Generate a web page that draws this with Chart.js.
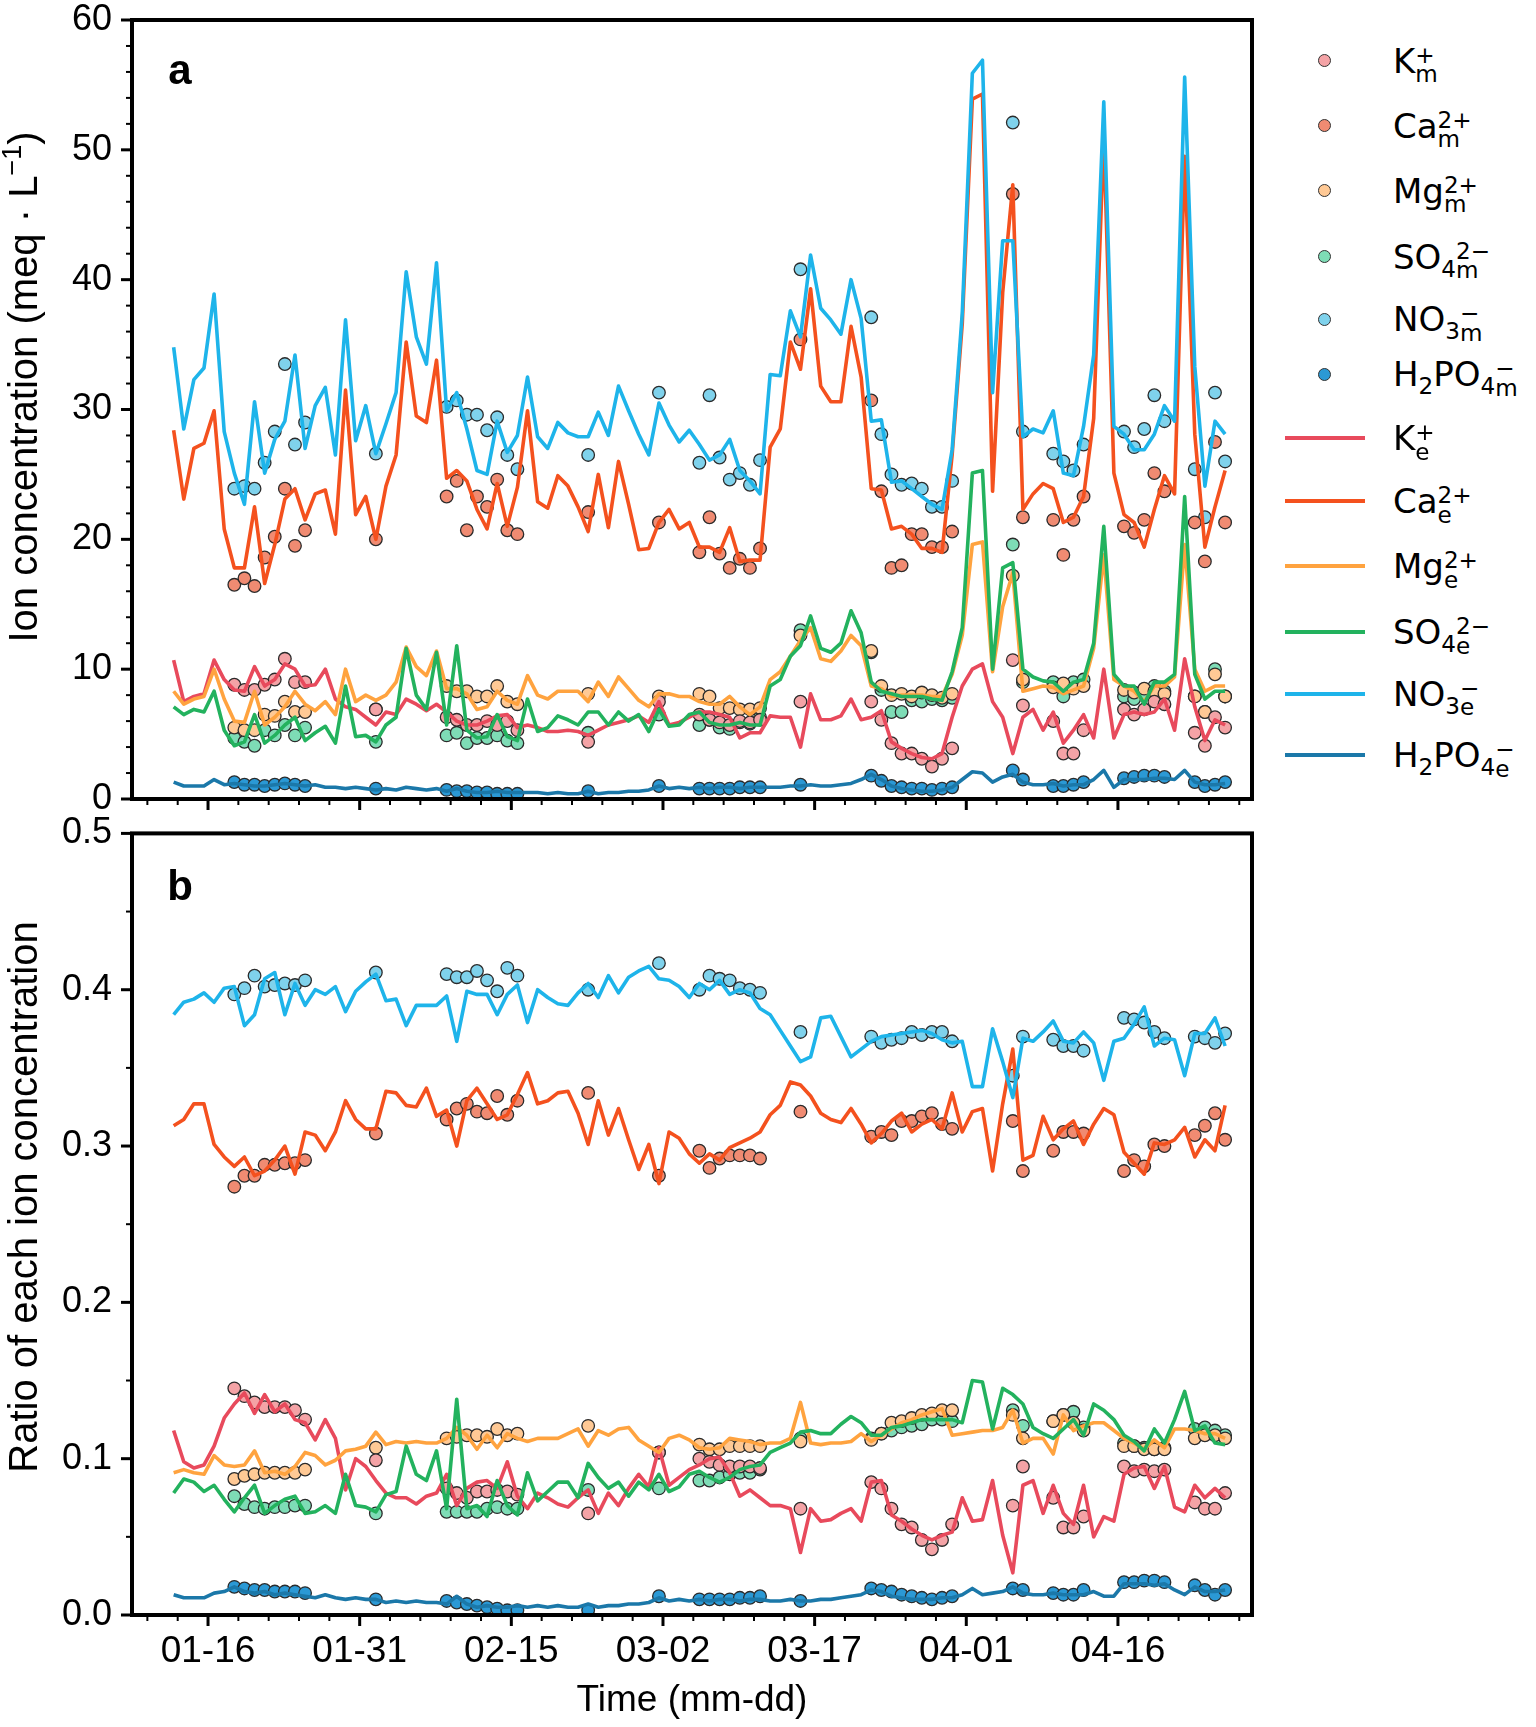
<!DOCTYPE html>
<html>
<head>
<meta charset="utf-8">
<script src="https://cdn.jsdelivr.net/npm/chart.js@4.4.1/dist/chart.umd.min.js"></script>
<style>
    html, body { margin: 0; padding: 0; background: #fff; }
    body { width: 1536px; height: 1727px; position: relative; overflow: hidden; }
    .panel { position: absolute; left: 0; width: 1290px; }
    #wrapA { top: 0; height: 830px; }
    #wrapB { top: 790px; height: 937px; }
    #legend { position: absolute; left: 0; top: 0; font-family: 'DejaVu Sans'; font-size: 34px; color: #000; }
    .row { position: absolute; left: 1393px; height: 34px; line-height: 34px; white-space: nowrap; }
    .st { display: inline-grid; font-size: 0.68em; line-height: 0.85; vertical-align: 10px; }
    .lo { font-size: 0.68em; vertical-align: -8px; }
    .dot { position: absolute; width: 13px; height: 13px; border-radius: 50%; border: 1.3px solid #333; box-sizing: border-box; }
    .seg { position: absolute; width: 80px; height: 4px; }
</style>
</head>
<body>
<div id="wrapA" class="panel"><canvas id="chartA"></canvas></div>
<div id="wrapB" class="panel"><canvas id="chartB"></canvas></div>
<div id="legend"></div>

<script>
// Datos: una muestra diaria; dia 0 = 01-16
const startOffset = -3.4;

// Indices (desde el primer dia) de las fechas con medicion
const sampleIdx = [6,7,8,9,10,11,12,13, 20, 27,28,29,30,31,32,33,34, 41, 48, 52,53,54,55,56,57,58, 62,
    69,70,71,72,73,74,75,76,77, 83,84, 87,88,89,90, 94,95,96,97,98, 101,102,103,104];

// Eje x
const xTickDays = [0, 15, 30, 45, 60, 75, 90];
const xTickLabels = ['01-16', '01-31', '02-15', '03-02', '03-17', '04-01', '04-16'];

// ---- Panel a: concentracion estimada (meq/L) ----
const concK = [10.7,7.5,7.9,8.1,10.7,9.2,8.4,8.3,10.2,8.7,9.2,10.4,10.0,8.7,8.8,10.0,7.7,7.1,6.9,6.3,5.7,6.7,6.5,7.7,7.3,6.8,7.3,6.7,6.0,5.7,5.7,6.0,6.4,6.5,5.5,
    5.7,5.5,5.2,5.2,5.3,5.2,4.9,5.3,5.7,5.9,6.1,6.4,5.9,7.5,5.7,5.9,6.3,6.7,6.7,6.5,6.3,4.7,5.1,5.1,6.4,6.3,6.3,4.0,8.1,6.1,6.1,6.4,7.7,6.1,6.3,6.8,4.4,
    3.9,3.5,3.2,3.1,3.5,6.3,8.7,10.0,10.4,7.5,6.3,3.5,6.3,6.9,5.3,6.7,4.3,5.3,6.5,4.7,10.0,4.7,6.5,6.7,6.5,6.7,7.7,5.3,10.8,7.1,4.5,6.1,5.7];
const concCa = [28.4,23.1,27.0,27.4,29.9,20.8,17.8,17.8,22.5,16.6,19.6,23.1,23.9,21.5,23.5,23.8,20.4,31.5,21.9,23.3,20.0,24.1,26.5,35.2,29.5,29.0,33.8,24.7,25.3,24.5,22.3,20.8,24.3,21.0,24.0,
    29.9,22.9,22.4,24.9,24.1,22.5,20.6,25.0,20.9,26.0,22.7,19.2,19.3,21.3,22.3,20.8,21.3,19.4,19.4,19.0,20.9,18.3,18.4,18.4,27.1,28.5,35.2,33.1,39.3,31.8,30.6,30.6,36.4,32.5,23.9,23.8,20.8,
    21.0,20.4,19.3,19.3,19.0,26.5,36.6,53.9,54.3,23.7,39.0,47.3,22.3,23.5,24.3,23.9,21.3,21.7,23.3,29.3,51.1,25.1,21.9,21.3,19.4,22.3,24.9,23.5,49.5,28.1,19.4,22.5,25.3];
const concMg = [8.3,7.3,7.7,7.9,10.0,7.7,6.0,5.9,8.3,5.7,6.3,7.1,8.3,7.3,6.8,7.5,6.5,10.0,7.5,8.0,7.6,8.0,9.0,11.7,10.2,9.5,11.4,8.5,8.5,8.1,6.9,7.1,8.3,7.6,7.3,
    9.5,8.0,7.7,8.3,8.3,8.3,7.5,9.0,7.9,9.4,8.5,7.6,7.1,8.1,8.1,7.9,7.9,7.5,7.3,7.3,7.9,7.1,6.5,7.1,9.2,9.8,11.0,12.2,13.2,10.8,10.6,11.4,12.6,11.8,8.7,8.5,7.9,
    8.0,8.0,8.0,7.9,7.9,9.6,12.6,19.6,19.8,9.8,14.8,17.4,8.3,8.5,8.7,8.6,8.1,8.4,8.7,11.6,18.8,9.2,8.7,8.3,7.5,8.7,8.7,9.4,19.6,10.0,8.3,8.7,8.7];
const concSO4 = [7.1,6.5,6.9,6.7,8.3,5.3,4.1,4.4,6.5,4.3,4.9,5.7,6.3,4.5,5.1,5.6,4.3,8.7,4.8,4.9,4.4,5.7,6.3,11.6,8.0,6.9,11.3,5.7,11.8,5.3,4.7,4.8,6.5,4.8,4.5,
    7.7,5.2,5.5,6.4,6.1,5.7,6.7,6.7,5.7,6.7,6.0,6.5,5.2,6.9,5.6,5.7,6.5,6.7,5.9,5.7,5.7,5.9,5.7,5.7,8.7,9.2,11.0,11.8,14.1,11.6,11.3,12.0,14.5,12.8,9.0,8.3,8.1,
    7.9,7.9,7.9,7.7,7.6,9.8,13.2,25.1,25.3,10.0,17.8,18.2,10.0,9.4,9.1,9.0,8.3,9.0,9.2,12.0,21.0,9.6,8.7,8.7,7.3,9.0,9.0,9.6,23.3,9.6,7.7,8.3,8.3];
const concNO3 = [34.8,28.5,32.3,33.2,38.9,28.3,25.1,22.7,30.6,25.1,27.7,29.1,34.2,27.0,30.3,31.7,26.5,36.9,27.6,30.3,26.6,28.9,31.3,40.6,35.6,33.5,41.3,29.9,31.3,28.5,25.3,25.0,29.1,26.7,28.0,
    32.5,27.9,27.0,29.0,28.2,27.9,27.9,29.8,28.0,31.8,29.9,28.1,26.5,30.5,28.8,27.5,28.4,27.3,26.1,26.5,27.7,25.3,24.5,23.5,32.7,32.6,37.6,35.6,41.9,37.8,36.9,35.8,40.0,37.0,29.1,29.2,24.4,
    24.5,23.9,23.3,22.7,22.3,26.9,37.4,55.9,56.9,31.3,43.0,43.0,27.9,28.5,28.2,29.9,25.1,24.9,28.7,34.2,53.7,28.7,28.1,26.9,26.9,28.1,30.3,29.1,55.6,33.3,24.1,29.1,28.1];
const concH2PO4 = [1.3,1.0,1.0,1.0,1.5,1.1,1.2,1.1,1.0,1.0,1.1,1.2,1.1,1.0,1.1,0.9,0.9,0.8,0.9,0.8,0.7,0.8,0.7,0.9,0.8,0.7,0.8,0.6,0.8,0.6,0.5,0.5,0.6,0.5,0.5,
    0.5,0.5,0.4,0.5,0.4,0.4,0.6,0.4,0.5,0.5,0.6,0.6,0.7,1.0,0.8,0.9,0.8,0.9,0.8,0.9,0.9,0.8,0.9,0.9,0.9,0.9,1.0,1.0,1.1,1.0,1.0,1.1,1.2,1.5,1.9,1.5,1.0,
    0.8,0.7,0.6,0.6,0.7,0.9,1.5,2.1,2.0,1.3,1.7,1.9,1.3,1.1,1.1,1.2,1.0,1.1,1.1,1.5,2.2,0.9,1.5,1.5,1.5,1.6,1.6,1.5,2.2,1.3,1.1,1.1,1.2];

// Panel a: concentracion medida
const measK = [8.8,8.4,8.4,8.8,9.2,10.8,9.0,9.0, 6.9, 6.3,6.1,5.7,5.7,6.0,5.7,6.0,5.3, 4.4, 7.5, 6.5,6.1,5.9,5.7,6.0,5.9,6.1, 7.5,
    7.5,6.1,4.3,3.5,3.5,3.1,2.5,3.1,3.9, 10.7,7.2, 6.0,3.5,3.5,5.3, 6.9,6.5,6.9,7.5,7.3, 5.1,4.1,6.3,5.5];
const measCa = [16.5,17.0,16.4,18.6,20.2,23.9,19.5,20.7, 20.0, 23.3,24.5,20.7,23.3,22.5,24.6,20.7,20.4, 22.1, 21.3, 19.0,21.7,18.9,17.8,18.5,17.8,19.3, 35.4,
    30.7,23.7,17.8,18.0,20.4,20.4,19.4,19.4,20.6, 46.6,21.7, 21.5,18.8,21.5,23.3, 21.0,20.5,21.5,25.1,23.7, 21.3,18.3,27.5,21.3];
const measMg = [5.5,5.3,5.3,6.5,6.4,7.5,6.7,6.7, 6.9, 8.7,8.3,8.3,7.9,7.9,8.7,7.5,7.3, 8.1, 7.9, 8.1,7.9,7.0,7.0,6.9,6.9,7.0, 12.6,
    11.4,8.7,8.0,8.1,7.9,8.2,8.0,7.8,8.1, 17.2,9.2, 8.6,8.9,8.5,8.7, 8.4,8.2,8.5,8.3,8.1, 7.9,6.7,9.6,7.9];
const measSO4 = [4.7,4.4,4.1,5.3,4.9,5.7,4.9,5.5, 4.4, 4.9,5.1,4.3,4.7,4.7,4.9,4.5,4.3, 5.1, 6.5, 5.7,6.1,5.5,5.4,5.9,5.8,6.3, 13.0,
    11.3,8.4,6.7,6.7,7.6,7.5,7.7,7.6,7.8, 19.6,9.0, 9.0,7.9,9.0,9.2, 7.9,7.7,8.1,8.7,8.3, 7.9,6.7,10.0,7.9];
const measNO3 = [23.9,24.1,23.9,25.9,28.3,33.5,27.3,29.0, 26.6, 30.2,30.7,29.6,29.6,28.4,29.4,26.5,25.4, 26.5, 31.3, 25.9,31.1,26.3,24.6,25.1,24.2,26.1, 40.8,
    37.1,28.1,25.0,24.2,24.3,23.9,22.5,22.5,24.5, 52.1,28.3, 26.6,26.0,25.3,27.3, 28.3,27.1,28.5,31.1,29.1, 25.4,21.7,31.3,26.0];
const measH2PO4 = [1.3,1.1,1.1,1.0,1.1,1.2,1.1,1.0, 0.8, 0.7,0.6,0.6,0.5,0.5,0.4,0.4,0.4, 0.6, 1.0, 0.8,0.8,0.8,0.8,0.9,0.9,0.9, 1.1,
    1.8,1.4,1.0,0.9,0.8,0.8,0.7,0.8,0.9, 2.2,1.5, 1.0,1.0,1.1,1.3, 1.6,1.7,1.8,1.8,1.7, 1.3,1.0,1.1,1.3];

// ---- Panel b: fraccion de cada ion (estimada) ----
const ratioK = [0.118,0.098,0.094,0.096,0.108,0.126,0.135,0.142,0.129,0.141,0.130,0.135,0.125,0.123,0.112,0.125,0.113,0.080,0.100,0.095,0.086,0.078,0.075,0.075,0.071,0.076,0.078,0.090,0.070,0.081,0.085,0.086,0.081,0.098,0.076,
    0.068,0.078,0.075,0.071,0.069,0.075,0.080,0.065,0.078,0.070,0.081,0.090,0.082,0.107,0.083,0.088,0.093,0.096,0.100,0.101,0.091,0.076,0.080,0.075,0.070,0.070,0.068,0.040,0.068,0.060,0.061,0.065,0.068,0.060,0.085,0.086,0.064,
    0.060,0.055,0.051,0.048,0.051,0.053,0.075,0.060,0.061,0.086,0.051,0.027,0.083,0.086,0.065,0.083,0.065,0.058,0.083,0.050,0.063,0.060,0.090,0.094,0.095,0.081,0.095,0.069,0.066,0.083,0.075,0.081,0.075];
const ratioCa = [0.313,0.317,0.327,0.327,0.301,0.293,0.287,0.293,0.281,0.284,0.291,0.300,0.282,0.309,0.307,0.297,0.309,0.329,0.317,0.311,0.311,0.335,0.334,0.326,0.325,0.337,0.319,0.323,0.300,0.329,0.337,0.327,0.317,0.320,0.333,
    0.347,0.327,0.329,0.334,0.335,0.321,0.301,0.329,0.307,0.324,0.304,0.285,0.301,0.276,0.309,0.305,0.295,0.289,0.295,0.291,0.299,0.302,0.305,0.309,0.320,0.326,0.341,0.339,0.332,0.321,0.317,0.315,0.324,0.314,0.302,0.308,0.316,
    0.321,0.309,0.314,0.317,0.311,0.334,0.309,0.322,0.324,0.284,0.327,0.362,0.291,0.294,0.319,0.304,0.311,0.316,0.301,0.314,0.324,0.320,0.296,0.289,0.282,0.302,0.301,0.304,0.312,0.293,0.304,0.297,0.326];
const ratioMg = [0.091,0.093,0.091,0.090,0.102,0.096,0.095,0.096,0.105,0.091,0.092,0.090,0.095,0.104,0.102,0.096,0.099,0.105,0.106,0.108,0.117,0.109,0.111,0.110,0.111,0.110,0.110,0.113,0.120,0.115,0.106,0.115,0.107,0.116,0.113,
    0.111,0.113,0.113,0.113,0.116,0.119,0.108,0.118,0.115,0.119,0.120,0.112,0.108,0.104,0.113,0.115,0.112,0.107,0.106,0.107,0.113,0.112,0.111,0.109,0.110,0.110,0.113,0.136,0.110,0.109,0.110,0.110,0.111,0.116,0.111,0.115,0.119,
    0.123,0.125,0.128,0.130,0.132,0.115,0.116,0.117,0.118,0.118,0.120,0.131,0.110,0.113,0.113,0.103,0.128,0.118,0.121,0.123,0.123,0.118,0.113,0.110,0.106,0.112,0.107,0.119,0.119,0.118,0.116,0.116,0.113];
const ratioSO4 = [0.078,0.087,0.085,0.079,0.083,0.074,0.066,0.075,0.083,0.065,0.070,0.074,0.076,0.065,0.066,0.070,0.065,0.090,0.070,0.069,0.066,0.077,0.079,0.108,0.090,0.086,0.105,0.068,0.138,0.068,0.070,0.063,0.086,0.070,0.064,
    0.091,0.073,0.079,0.085,0.085,0.075,0.097,0.088,0.081,0.085,0.076,0.085,0.080,0.090,0.079,0.082,0.090,0.092,0.088,0.085,0.088,0.093,0.095,0.096,0.104,0.107,0.110,0.117,0.118,0.116,0.116,0.122,0.127,0.123,0.115,0.115,0.120,
    0.121,0.123,0.125,0.125,0.125,0.125,0.123,0.150,0.149,0.119,0.145,0.141,0.135,0.120,0.116,0.113,0.119,0.125,0.115,0.135,0.131,0.125,0.115,0.111,0.105,0.119,0.110,0.125,0.143,0.118,0.121,0.110,0.109];
const ratioNO3 = [0.384,0.392,0.394,0.398,0.392,0.401,0.402,0.377,0.384,0.407,0.411,0.384,0.404,0.390,0.400,0.397,0.402,0.386,0.399,0.405,0.410,0.393,0.394,0.377,0.390,0.390,0.390,0.396,0.367,0.399,0.397,0.397,0.384,0.397,0.403,
    0.379,0.400,0.395,0.391,0.390,0.398,0.404,0.395,0.409,0.398,0.408,0.412,0.415,0.407,0.406,0.402,0.395,0.404,0.400,0.406,0.397,0.400,0.398,0.388,0.384,0.374,0.364,0.354,0.357,0.382,0.383,0.370,0.357,0.362,0.367,0.370,0.371,
    0.372,0.373,0.374,0.372,0.368,0.366,0.367,0.338,0.338,0.375,0.354,0.331,0.369,0.367,0.373,0.380,0.367,0.366,0.373,0.366,0.342,0.367,0.369,0.378,0.389,0.364,0.369,0.368,0.345,0.372,0.372,0.382,0.364];
const ratioH2PO4 = [0.013,0.011,0.011,0.011,0.014,0.015,0.018,0.015,0.014,0.015,0.013,0.014,0.013,0.012,0.011,0.013,0.011,0.010,0.011,0.010,0.010,0.008,0.009,0.008,0.009,0.008,0.008,0.007,0.012,0.007,0.005,0.006,0.005,0.005,0.006,
    0.005,0.006,0.005,0.006,0.005,0.005,0.007,0.005,0.006,0.006,0.007,0.007,0.008,0.011,0.009,0.010,0.009,0.010,0.009,0.010,0.010,0.009,0.010,0.010,0.009,0.009,0.010,0.009,0.009,0.010,0.010,0.011,0.012,0.013,0.016,0.015,0.012,
    0.011,0.010,0.010,0.010,0.011,0.011,0.013,0.017,0.013,0.014,0.015,0.018,0.014,0.013,0.013,0.014,0.013,0.013,0.013,0.015,0.012,0.012,0.020,0.020,0.020,0.019,0.020,0.016,0.013,0.018,0.015,0.015,0.016];

// Panel b: fraccion medida
const ratioMeasK = [0.145,0.140,0.136,0.133,0.133,0.133,0.131,0.125, 0.099, 0.081,0.078,0.075,0.079,0.079,0.080,0.079,0.077, 0.065, 0.104, 0.100,0.098,0.096,0.095,0.095,0.095,0.094, 0.068,
    0.085,0.081,0.068,0.058,0.056,0.048,0.042,0.048,0.058, 0.070,0.095, 0.075,0.056,0.056,0.063, 0.095,0.092,0.093,0.092,0.093, 0.072,0.068,0.068,0.078];
const ratioMeasCa = [0.274,0.281,0.281,0.288,0.288,0.289,0.289,0.291, 0.308, 0.317,0.324,0.327,0.322,0.321,0.332,0.320,0.329, 0.334, 0.281, 0.297,0.286,0.292,0.294,0.294,0.294,0.292, 0.322,
    0.306,0.309,0.307,0.316,0.316,0.319,0.321,0.314,0.311, 0.316,0.284, 0.297,0.309,0.309,0.308, 0.284,0.291,0.287,0.301,0.300, 0.307,0.313,0.321,0.304];
const ratioMeasMg = [0.087,0.089,0.090,0.091,0.091,0.091,0.091,0.093, 0.107, 0.113,0.114,0.115,0.115,0.114,0.119,0.115,0.116, 0.121, 0.104, 0.109,0.106,0.106,0.108,0.108,0.108,0.108, 0.111,
    0.112,0.116,0.123,0.124,0.126,0.128,0.129,0.131,0.131, 0.128,0.113, 0.124,0.128,0.123,0.118, 0.108,0.108,0.106,0.106,0.106, 0.113,0.115,0.115,0.113];
const ratioMeasSO4 = [0.076,0.071,0.069,0.068,0.069,0.069,0.070,0.070, 0.065, 0.066,0.066,0.066,0.066,0.068,0.069,0.068,0.068, 0.080, 0.081, 0.086,0.086,0.088,0.090,0.091,0.091,0.093, 0.113,
    0.113,0.116,0.118,0.120,0.121,0.122,0.125,0.125,0.124, 0.131,0.121, 0.124,0.128,0.130,0.120, 0.110,0.108,0.107,0.106,0.107, 0.119,0.120,0.118,0.115];
const ratioMeasNO3 = [0.397,0.401,0.409,0.402,0.403,0.404,0.403,0.406, 0.411, 0.410,0.408,0.408,0.412,0.406,0.399,0.414,0.409, 0.400, 0.417, 0.400,0.409,0.407,0.406,0.401,0.400,0.398, 0.373,
    0.370,0.366,0.368,0.369,0.373,0.371,0.373,0.373,0.367, 0.345,0.370, 0.368,0.364,0.364,0.361, 0.382,0.381,0.379,0.373,0.369, 0.370,0.369,0.366,0.372];
const ratioMeasH2PO4 = [0.018,0.017,0.016,0.016,0.015,0.015,0.015,0.014, 0.010, 0.009,0.008,0.007,0.006,0.005,0.004,0.003,0.003, 0.003, 0.012, 0.010,0.010,0.010,0.010,0.011,0.011,0.012, 0.009,
    0.017,0.016,0.015,0.013,0.012,0.011,0.010,0.011,0.012, 0.017,0.016, 0.014,0.013,0.013,0.016, 0.021,0.021,0.022,0.022,0.021, 0.019,0.016,0.013,0.016];

// Colores por ion: K, Ca, Mg, SO4, NO3, H2PO4
const lineColors = ['#E84A5C', '#F4511E', '#FFA33F', '#23B25E', '#1EB4EA', '#1B78A9'];
const dotColors = ['#F4A3A6', '#F08B72', '#FFC995', '#7EDCB6', '#7FD2EC', '#2B99D5'];

// Etiquetas de la leyenda (sub/superindices)
const ionBase = ['K', 'Ca', 'Mg', 'SO<span class="lo">4</span>', 'NO<span class="lo">3</span>', 'H<span class="lo">2</span>PO<span class="lo">4</span>'];
const ionCharge = ['+', '2+', '2+', '2\u2212', '\u2212', '\u2212'];

// Ejes
const xMin = -7.52, xMax = 103.26;
const xMinorStep = 3;

function dayOf(i) { return startOffset + i; }
function linePoints(vals) { return vals.map((v, i) => ({ x: dayOf(i), y: v })); }
function samplePoints(vals) { return vals.map((v, k) => ({ x: dayOf(sampleIdx[k]), y: v })); }

function stepValues(min, max, step) {
    const out = [];
    for (let v = min; v <= max + step / 1000; v += step) out.push(Math.round(v * 1000) / 1000);
    return out;
}

// Marco grueso y marcas mayores/menores hacia fuera
const frameTicks = {
    id: 'frameTicks',
    afterDraw(chart) {
        const { ctx, chartArea: a, scales } = chart;
        const yMajor = chart.options.scales.y.majorStep;
        ctx.save();
        ctx.strokeStyle = '#000';
        ctx.lineCap = 'butt';
        scales.x.ticks.forEach(t => {
            const px = scales.x.getPixelForValue(t.value);
            const major = xTickDays.includes(t.value);
            ctx.lineWidth = major ? 3 : 2;
            ctx.beginPath();
            ctx.moveTo(px, a.bottom);
            ctx.lineTo(px, a.bottom + (major ? 11 : 6));
            ctx.stroke();
        });
        scales.y.ticks.forEach(t => {
            const py = scales.y.getPixelForValue(t.value);
            const r = t.value / yMajor;
            const major = Math.abs(r - Math.round(r)) < 1e-6;
            ctx.lineWidth = major ? 3 : 2;
            ctx.beginPath();
            ctx.moveTo(a.left, py);
            ctx.lineTo(a.left - (major ? 11 : 6), py);
            ctx.stroke();
        });
        ctx.lineWidth = 4;
        ctx.strokeRect(a.left, a.top, a.right - a.left, a.bottom - a.top);
        ctx.restore();
    }
};

// Titulos de ejes y letra del panel
const panelText = {
    id: 'panelText',
    afterDraw(chart, args, opts) {
        const ctx = chart.ctx;
        ctx.save();
        ctx.fillStyle = '#000';
        ctx.font = 'bold 42px "Liberation Sans"';
        ctx.textAlign = 'center';
        ctx.textBaseline = 'alphabetic';
        ctx.fillText(opts.letter, opts.letterX, opts.letterY);

        // titulo y (rotado), con posible superindice
        ctx.translate(opts.yTitleX, opts.yTitleY);
        ctx.rotate(-Math.PI / 2);
        const mainFont = '40px "Liberation Sans"';
        const supFont = '27px "Liberation Sans"';
        let w = 0;
        opts.yTitle.forEach(p => { ctx.font = p.sup ? supFont : mainFont; w += ctx.measureText(p.text).width; });
        let x = -w / 2;
        ctx.textAlign = 'left';
        opts.yTitle.forEach(p => {
            ctx.font = p.sup ? supFont : mainFont;
            ctx.fillText(p.text, x, p.sup ? -4 : 12);
            x += ctx.measureText(p.text).width;
        });
        ctx.restore();

        if (opts.xTitle) {
            ctx.save();
            ctx.fillStyle = '#000';
            ctx.font = '37px "Liberation Sans"';
            ctx.textAlign = 'center';
            ctx.textBaseline = 'middle';
            ctx.fillText(opts.xTitle, (chart.chartArea.left + chart.chartArea.right) / 2, opts.xTitleY);
            ctx.restore();
        }
    }
};

function buildDatasets(lines, dots) {
    const ds = [];
    dots.forEach((vals, k) => {
        ds.push({
            data: samplePoints(vals),
            showLine: false,
            pointRadius: 6.3,
            backgroundColor: dotColors[k],
            borderColor: '#2b2b2b',
            borderWidth: 1.3,
            order: 20
        });
    });
    lines.forEach((vals, k) => {
        ds.push({
            data: linePoints(vals),
            showLine: true,
            borderColor: lineColors[k],
            borderWidth: 3.6,
            pointRadius: 0,
            tension: 0,
            borderJoinStyle: 'round',
            fill: false,
            order: 6 - k
        });
    });
    return ds;
}

function makePanel(canvasId, cfg) {
    return new Chart(document.getElementById(canvasId), {
        type: 'scatter',
        data: { datasets: buildDatasets(cfg.lines, cfg.dots) },
        options: {
            responsive: true,
            maintainAspectRatio: false,
            animation: false,
            events: [],
            layout: { padding: { top: cfg.padTop, right: 38, left: 0, bottom: 0 } },
            plugins: {
                legend: { display: false },
                tooltip: { enabled: false },
                panelText: cfg.text
            },
            scales: {
                x: {
                    type: 'linear',
                    min: xMin,
                    max: xMax,
                    grid: { display: false, drawTicks: false },
                    border: { display: false },
                    afterBuildTicks: s => { s.ticks = stepValues(-6, 102, xMinorStep).map(v => ({ value: v })); },
                    afterFit: s => { s.height = cfg.xAxisH; s.paddingLeft = 0; s.paddingRight = 0; },
                    ticks: {
                        display: cfg.xLabels,
                        autoSkip: false,
                        maxRotation: 0,
                        padding: 15,
                        color: '#000',
                        font: { family: 'Liberation Sans', size: 37 },
                        callback: v => {
                            const k = xTickDays.indexOf(v);
                            return k >= 0 ? xTickLabels[k] : '';
                        }
                    }
                },
                y: {
                    min: cfg.yMin,
                    max: cfg.yMax,
                    majorStep: cfg.yMajor,
                    grid: { display: false, drawTicks: false },
                    border: { display: false },
                    afterBuildTicks: s => { s.ticks = stepValues(cfg.yMin, cfg.yMax, cfg.yMinor).map(v => ({ value: v })); },
                    afterFit: s => { s.width = 132; s.paddingTop = 0; s.paddingBottom = 0; },
                    ticks: {
                        autoSkip: false,
                        padding: 20,
                        color: '#000',
                        font: { family: 'Liberation Sans', size: 36 },
                        callback: v => {
                            const r = v / cfg.yMajor;
                            return Math.abs(r - Math.round(r)) < 1e-6 ? v.toFixed(cfg.yDigits) : '';
                        }
                    }
                }
            }
        },
        plugins: [frameTicks, panelText]
    });
}

// Leyenda HTML a la derecha del panel a
function buildLegend() {
    const legend = document.getElementById('legend');
    const rowY = [60.6, 125.5, 190.5, 256.5, 319.3, 374.3, 438.2, 501, 566, 632, 693.6, 755.3];
    for (let r = 0; r < 12; r++) {
        const k = r % 6;
        const isLine = r >= 6;
        const yc = rowY[r];
        const sub = isLine ? 'e' : 'm';
        const row = document.createElement('div');
        row.className = 'row';
        row.style.top = (yc - 17) + 'px';
        row.innerHTML = ionBase[k] + '<span class="st"><span>' + ionCharge[k] + '</span><span>' + sub + '</span></span>';
        legend.appendChild(row);
        const mark = document.createElement('div');
        if (isLine) {
            mark.className = 'seg';
            mark.style.left = '1285px';
            mark.style.top = (yc - 2) + 'px';
            mark.style.background = lineColors[k];
        } else {
            mark.className = 'dot';
            mark.style.left = (1324.5 - 6.5) + 'px';
            mark.style.top = (yc - 6.5) + 'px';
            mark.style.background = dotColors[k];
        }
        legend.appendChild(mark);
    }
}

document.addEventListener('DOMContentLoaded', function() {
    makePanel('chartA', {
        lines: [concK, concCa, concMg, concSO4, concNO3, concH2PO4],
        dots: [measK, measCa, measMg, measSO4, measNO3, measH2PO4],
        padTop: 20, xAxisH: 31, xLabels: false,
        yMin: 0, yMax: 60, yMajor: 10, yMinor: 2, yDigits: 0,
        text: {
            letter: 'a', letterX: 180, letterY: 84,
            yTitleX: 25, yTitleY: 387,
            yTitle: [{ text: 'Ion concentration (meq \u00b7 L' }, { text: '\u22121', sup: true }, { text: ')' }]
        }
    });
    makePanel('chartB', {
        lines: [ratioK, ratioCa, ratioMg, ratioSO4, ratioNO3, ratioH2PO4],
        dots: [ratioMeasK, ratioMeasCa, ratioMeasMg, ratioMeasSO4, ratioMeasNO3, ratioMeasH2PO4],
        padTop: 43.4, xAxisH: 112, xLabels: true,
        yMin: 0, yMax: 0.5, yMajor: 0.1, yMinor: 0.05, yDigits: 1,
        text: {
            letter: 'b', letterX: 180, letterY: 110,
            yTitleX: 25, yTitleY: 407,
            yTitle: [{ text: 'Ratio of each ion concentration' }],
            xTitle: 'Time (mm-dd)', xTitleY: 911
        }
    });
    buildLegend();
});
</script>
</body>
</html>
